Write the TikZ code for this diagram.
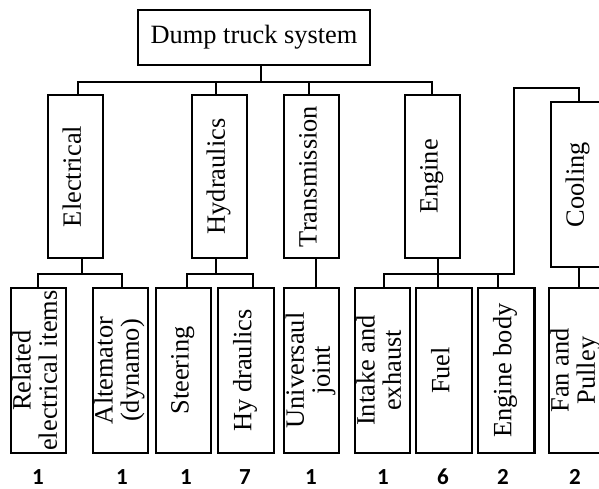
\documentclass[tikz,border=0pt]{standalone}
\usepackage{fontspec}
\setmainfont{Liberation Serif}
\newfontfamily\numfont{Carlito}
\begin{document}
\begin{tikzpicture}[x=0.5pt,y=-0.5pt,
  box/.style={draw=black,line width=0.6pt,inner sep=0pt,minimum width=27.5pt,
    font=\fontsize{13.2}{13}\selectfont},
  lvlone/.style={box,minimum height=81.5pt},
  lvltwo/.style={box,minimum height=82.5pt},
  conn/.style={draw=black,line width=0.55pt},
  num/.style={font=\numfont\bfseries\fontsize{11.5}{12}\selectfont,inner sep=0pt}]
\useasboundingbox (0,0) rectangle (599,488);
\clip (0,0) rectangle (599,488);
\newcommand{\vt}[1]{\rotatebox{90}{\begin{tabular}{@{}c@{}}#1\end{tabular}}}
% top
\node[box,minimum width=116pt,minimum height=27.5pt] (top) at (254,37.5) {Dump truck system};
% level one
\node[lvlone] (elec) at (75.5,176.5) {\vt{Electrical}};
\node[lvlone] (hyd) at (219.5,176.5) {\vt{Hydraulics}};
\node[lvlone] (tra) at (311.5,176.5) {\vt{Transmission}};
\node[lvlone] (eng) at (432.5,176.5) {\vt{Engine}};
\node[box,minimum height=82.5pt] (cool) at (578.5,184.5) {\vt{Cooling}};
% level two
\node[lvltwo] (rel) at (38.5,370.5) {\vt{Related\\electrical items}};
\node[lvltwo] (alt) at (120.5,370.5) {\vt{Altemator\\(dynamo)}};
\node[lvltwo] (ste) at (183.5,370.5) {\vt{Steering}};
\node[lvltwo,minimum width=28pt] (hyd2) at (246,370.5) {\vt{Hy draulics}};
\node[lvltwo] (uni) at (311.5,370.5) {\vt{Universaul\\joint}};
\node[lvltwo] (int) at (382.5,370.5) {\vt{Intake and\\exhaust}};
\node[lvltwo,minimum width=28pt] (fuel) at (444,370.5) {\vt{Fuel}};
\node[lvltwo,minimum width=28pt] (body) at (506,370.5) {\vt{Engine body}};
\node[lvltwo] (fan) at (576.5,370.5) {\vt{Fan and\\Pulley}};
\draw[line width=1.1pt] (body.north east) -- (body.south east);
% numbers
\node[num] (n1) at (38,477) {1};
\node[num] (n2) at (122,477) {1};
\node[num] (n3) at (186,477) {1};
\node[num] (n4) at (245,477) {7};
\node[num] (n5) at (311,477) {1};
\node[num] (n6) at (383,477) {1};
\node[num] (n7) at (443,477) {6};
\node[num] (n8) at (503,477) {2};
\node[num] (n9) at (575,477) {2};
% junction coordinates
\coordinate (tp) at (261,82);
\coordinate (bL) at (78,82);
\coordinate (bH) at (216,82);
\coordinate (bT) at (309,82);
\coordinate (bR) at (432,82);
\coordinate (eL) at (38,274);
\coordinate (eM) at (82,274);
\coordinate (eR) at (122,274);
\coordinate (hL) at (187,274);
\coordinate (hM) at (216,274);
\coordinate (hR) at (253,274);
\coordinate (tM) at (316,274);
\coordinate (gL) at (384,274);
\coordinate (gM) at (438,274);
\coordinate (gB) at (498,274);
\coordinate (gR) at (514,274);
\coordinate (gT) at (514,88);
\coordinate (cT) at (579,88);
\coordinate (cB) at (579,280);
% connectors
\draw[conn] (tp |- top.south) -- (tp);
\draw[conn] (bL |- elec.north) -- (bL) -- (bR) -- (bR |- eng.north);
\draw[conn] (bH) -- (bH |- hyd.north);
\draw[conn] (bT) -- (bT |- tra.north);
\draw[conn] (eM |- elec.south) -- (eM);
\draw[conn] (eL |- rel.north) -- (eL) -- (eR) -- (eR |- alt.north);
\draw[conn] (hM |- hyd.south) -- (hM);
\draw[conn] (hL |- ste.north) -- (hL) -- (hR) -- (hR |- hyd2.north);
\draw[conn] (tM |- tra.south) -- (tM |- uni.north);
\draw[conn] (gM |- eng.south) -- (gM |- fuel.north);
\draw[conn] (gL |- int.north) -- (gL) -- (gR) -- (gT) -- (cT) -- (cT |- cool.north);
\draw[conn] (gB) -- (gB |- body.north);
\draw[conn] (cB |- cool.south) -- (cB |- fan.north);
\end{tikzpicture}
\end{document}
